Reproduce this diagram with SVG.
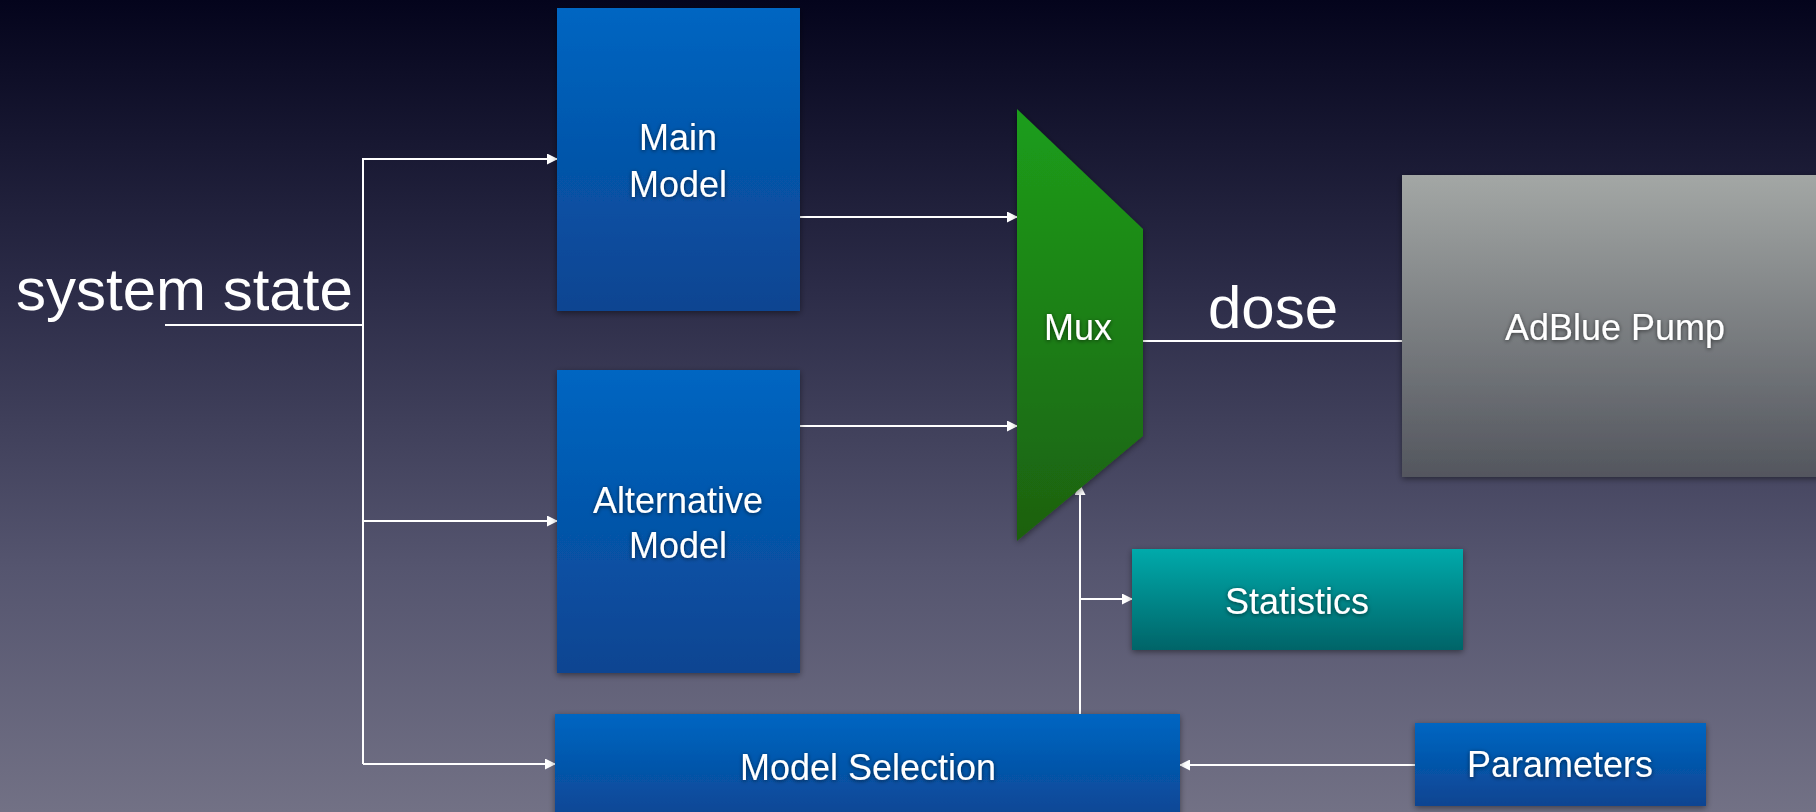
<svg xmlns="http://www.w3.org/2000/svg" width="1816" height="812" viewBox="0 0 1816 812">
  <defs>
    <linearGradient id="bg" x1="0" y1="0" x2="0" y2="1">
      <stop offset="0" stop-color="#04041c"/>
      <stop offset="0.35" stop-color="#2b2b47"/>
      <stop offset="0.7" stop-color="#55556f"/>
      <stop offset="1" stop-color="#727185"/>
    </linearGradient>
    <linearGradient id="blue" x1="0" y1="0" x2="0" y2="1">
      <stop offset="0" stop-color="#0066c2"/>
      <stop offset="1" stop-color="#0b4491"/>
    </linearGradient>
    <linearGradient id="teal" x1="0" y1="0" x2="0" y2="1">
      <stop offset="0" stop-color="#00aaab"/>
      <stop offset="1" stop-color="#006468"/>
    </linearGradient>
    <linearGradient id="grey" x1="0" y1="0" x2="0" y2="1">
      <stop offset="0" stop-color="#a3a7a5"/>
      <stop offset="1" stop-color="#53565e"/>
    </linearGradient>
    <linearGradient id="green" x1="0" y1="0" x2="0" y2="1">
      <stop offset="0" stop-color="#1b9e1b"/>
      <stop offset="1" stop-color="#1f6010"/>
    </linearGradient>
    <filter id="shadow" x="-10%" y="-10%" width="120%" height="125%">
      <feDropShadow dx="0" dy="2" stdDeviation="3" flood-color="#000" flood-opacity="0.45"/>
    </filter>
    <filter id="tshadow" x="-10%" y="-30%" width="120%" height="160%">
      <feDropShadow dx="0" dy="1" stdDeviation="2" flood-color="#000" flood-opacity="0.6"/>
    </filter>
    <marker id="arrow" markerUnits="userSpaceOnUse" markerWidth="11" markerHeight="11" refX="10" refY="5.5" orient="auto">
      <path d="M0,0 L11,5.5 L0,11 z" fill="#ffffff"/>
    </marker>
  </defs>
  <style>
    .lbl { font-family: "Liberation Sans", Arial, sans-serif; fill: #ffffff; font-size: 36px; text-anchor: middle; filter: url(#tshadow); }
    .big { font-family: "Liberation Sans", Arial, sans-serif; fill: #ffffff; font-size: 60px; }
    .box { filter: url(#shadow); }
    .conn { stroke: #ffffff; stroke-width: 2; fill: none; }
    .arr { marker-end: url(#arrow); }
  </style>

  <rect x="0" y="0" width="1816" height="812" fill="url(#bg)"/>

  <text class="big" x="16" y="310">system state</text>
  <text class="big" x="1208" y="328">dose</text>

  <g id="connectors">
    <path class="conn" d="M165,325 H363"/>
    <path class="conn" d="M363,159 V764"/>
    <path class="conn arr" d="M362,159 H557"/>
    <path class="conn arr" d="M363,521 H557"/>
    <path class="conn arr" d="M363,764 H555"/>
    <path class="conn arr" d="M800,217 H1017"/>
    <path class="conn arr" d="M800,426 H1017"/>
    <path class="conn" d="M1143,341 H1402"/>
    <path class="conn arr" d="M1080,714 V485"/>
    <path class="conn arr" d="M1080,599 H1132"/>
    <path class="conn arr" d="M1415,765 H1180"/>
  </g>

  <g id="main-model">
    <rect class="box" x="557" y="8" width="243" height="303" fill="url(#blue)"/>
    <text class="lbl" x="678" y="150">Main</text>
    <text class="lbl" x="678" y="197">Model</text>
  </g>

  <g id="alternative-model">
    <rect class="box" x="557" y="370" width="243" height="303" fill="url(#blue)"/>
    <text class="lbl" x="678" y="513">Alternative</text>
    <text class="lbl" x="678" y="558">Model</text>
  </g>

  <g id="model-selection">
    <rect class="box" x="555" y="714" width="625" height="110" fill="url(#blue)"/>
    <text class="lbl" x="868" y="780">Model Selection</text>
  </g>

  <g id="mux">
    <polygon class="box" points="1017,109 1143,229 1143,436 1017,541" fill="url(#green)"/>
    <text class="lbl" x="1078" y="340">Mux</text>
  </g>

  <g id="adblue-pump">
    <rect class="box" x="1402" y="175" width="420" height="302" fill="url(#grey)"/>
    <text class="lbl" x="1615" y="340">AdBlue Pump</text>
  </g>

  <g id="statistics">
    <rect class="box" x="1132" y="549" width="331" height="101" fill="url(#teal)"/>
    <text class="lbl" x="1297" y="614">Statistics</text>
  </g>

  <g id="parameters">
    <rect class="box" x="1415" y="723" width="291" height="83" fill="url(#blue)"/>
    <text class="lbl" x="1560" y="777">Parameters</text>
  </g>
</svg>
